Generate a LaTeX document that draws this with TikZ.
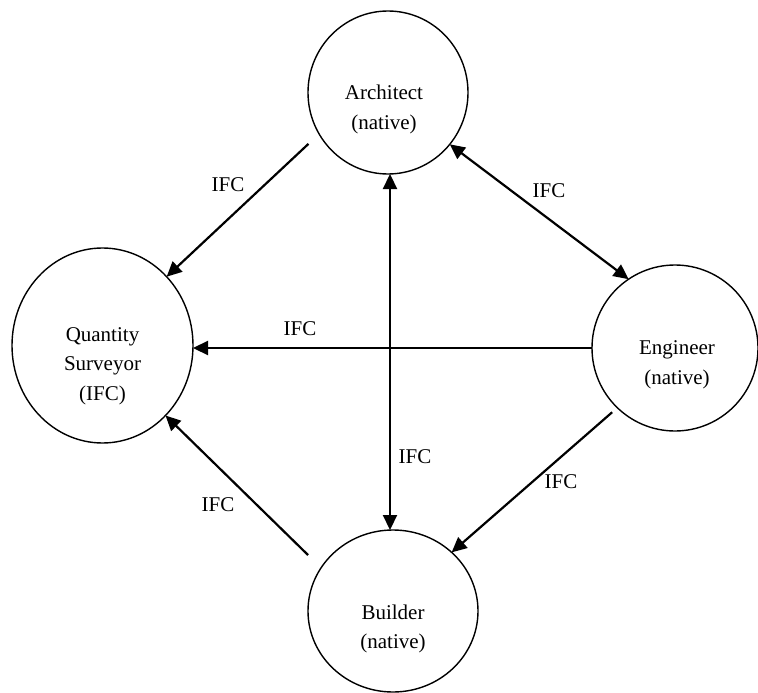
\documentclass[tikz,border=0pt]{standalone}
\usepackage{fontspec}
\setmainfont{Liberation Serif}
\usetikzlibrary{shapes.geometric,arrows.meta,calc}
\begin{document}
\begin{tikzpicture}[x=1pt,y=-1pt,
  party/.style={draw, line width=1.4pt, ellipse, inner sep=0pt, outer sep=0pt},
  ptext/.style={align=center, font=\fontsize{21}{29.5}\selectfont, inner sep=0pt},
  lbl/.style={font=\fontsize{21}{25}\selectfont, inner sep=0pt},
  conn/.style={line width=2.2pt, -{Triangle[length=15pt,width=14pt]}},
  bconn/.style={line width=2.2pt, {Triangle[length=15pt,width=14pt]}-{Triangle[length=15pt,width=14pt]}}
]
\useasboundingbox (0,0) rectangle (758,693);
\node[party, minimum width=160pt, minimum height=163pt,
  label={[ptext, xshift=-4pt, yshift=-17pt]center:Architect\\(native)}] (arch) at (388,92.5) {};
\node[party, minimum width=181pt, minimum height=195pt,
  label={[ptext, yshift=-20.5pt]center:Quantity\\Surveyor\\(IFC)}] (qs) at (102.5,345.5) {};
\node[party, minimum width=166pt, minimum height=166pt,
  label={[ptext, xshift=2pt, yshift=-17pt]center:Engineer\\(native)}] (eng) at (675,348) {};
\node[party, minimum width=170pt, minimum height=162pt,
  label={[ptext, yshift=-18pt]center:Builder\\(native)}] (bld) at (393,611) {};

\coordinate (vx) at (390,0);
\draw[conn, shorten <=14.6pt] (arch.211.3) -- (qs.47.2);
\draw[bconn] (arch.320.6) -- (eng.124);
\draw[bconn] (vx |- arch.south) -- (vx |- bld.north);
\draw[conn] (eng.west) -- (eng.west -| qs.east);
\draw[conn, shorten <=6.9pt] (eng.226.8) -- (bld.45);
\draw[conn, shorten <=18.3pt] (bld.149.1) -- (qs.312.9);

\node[lbl] (l1) at (228,185) {IFC};
\node[lbl] (l2) at (549,191) {IFC};
\node[lbl] (l3) at (300,329) {IFC};
\node[lbl] (l4) at (415,457) {IFC};
\node[lbl] (l5) at (561,482) {IFC};
\node[lbl] (l6) at (218,505) {IFC};
\end{tikzpicture}
\end{document}
